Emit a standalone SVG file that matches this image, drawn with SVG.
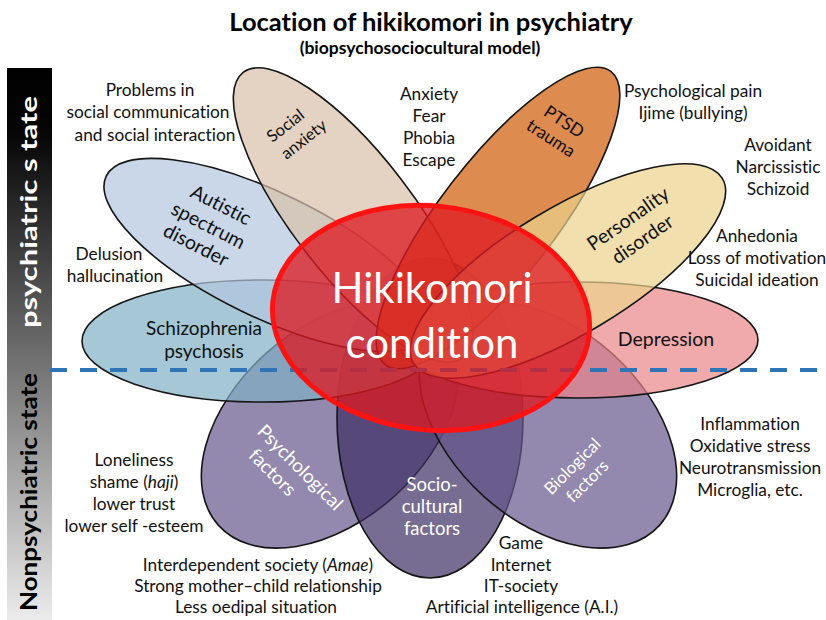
<svg xmlns="http://www.w3.org/2000/svg" width="826" height="620" viewBox="0 0 826 620">
  <defs>
    <linearGradient id="sideBar" x1="0" y1="0" x2="0" y2="1">
      <stop offset="0" stop-color="#000000"/>
      <stop offset="0.12" stop-color="#060606"/>
      <stop offset="1" stop-color="#ececec"/>
    </linearGradient>
    <style>
      text { font-family: Lato, "Open Sans", "Liberation Sans", sans-serif; font-variant-ligatures: none; text-anchor: middle; }
      .petal { stroke: #151515; stroke-width: 1.6; fill-opacity: 0.7; }
      .lbl { font-size: 17.3px; fill: #111; }
      .plbl { fill: #111; }
      .wlbl { fill: #ffffff; }
      .title { font-weight: bold; fill: #000; }
      .side { font-weight: bold; font-size: 22px; }
    </style>
  </defs>

  <rect width="826" height="620" fill="#ffffff"/>

  <!-- side bar: psychiatric / nonpsychiatric scale -->
  <g id="state-bar">
    <rect x="7" y="68" width="45" height="552" fill="url(#sideBar)"/>
    <text class="side" fill="#ffffff" transform="translate(37 212) rotate(-90)" textLength="232" lengthAdjust="spacingAndGlyphs">psychiatric s tate</text>
    <text class="side" fill="#000000" transform="translate(37 492) rotate(-90)" textLength="238" lengthAdjust="spacingAndGlyphs">Nonpsychiatric state</text>
  </g>

  <!-- title -->
  <g id="title">
    <text class="title" x="431" y="31" font-size="25.5">Location of hikikomori in psychiatry</text>
    <text class="title" x="420" y="54" font-size="17.5">(biopsychosociocultural model)</text>
  </g>

  <!-- petals -->
  <g id="psychological-factors">
    <ellipse class="petal" cx="330" cy="425" rx="150" ry="96" transform="rotate(-42 330 425)" fill="#65558c"/>
  </g>
  <g id="sociocultural-factors">
    <ellipse class="petal" cx="430" cy="418" rx="93" ry="160" fill="#3d2d64"/>
  </g>
  <g id="biological-factors">
    <ellipse class="petal" cx="548" cy="425" rx="150" ry="96" transform="rotate(42 548 425)" fill="#65558c"/>
  </g>
  <g id="schizophrenia">
    <ellipse class="petal" cx="262" cy="341" rx="180" ry="61" fill="#80b0c4"/>
  </g>
  <g id="depression">
    <ellipse class="petal" cx="578" cy="340" rx="180" ry="58" fill="#ea8689"/>
  </g>
  <g id="autistic-spectrum">
    <ellipse class="petal" cx="268" cy="255" rx="180" ry="62" transform="rotate(26 268 255)" fill="#b2c6de"/>
  </g>
  <g id="social-anxiety">
    <ellipse class="petal" cx="353" cy="215" rx="180" ry="60" transform="rotate(52.4 353 215)" fill="#d8c0a9"/>
  </g>
  <g id="ptsd">
    <ellipse class="petal" cx="498" cy="218" rx="185" ry="58" transform="rotate(-52.4 498 218)" fill="#d05a06" fill-opacity="0.82"/>
  </g>
  <g id="personality-disorder">
    <ellipse class="petal" cx="568" cy="271" rx="180" ry="63" transform="rotate(-31 568 271)" fill="#ebd38c"/>
  </g>

  <!-- boundary between psychiatric and nonpsychiatric states -->
  <g id="connectors">
    <line x1="50" y1="370" x2="826" y2="370" stroke="#2f74b5" stroke-width="4" stroke-dasharray="17 13"/>
  </g>

  <!-- central condition -->
  <g id="hikikomori-condition">
    <ellipse cx="431" cy="318" rx="159" ry="112" transform="rotate(6 431 318)" fill="#dc1a22" fill-opacity="0.77" stroke="#ff1212" stroke-width="5"/>
    <text class="wlbl" x="432" y="303" font-size="42">Hikikomori</text>
    <text class="wlbl" x="432" y="358" font-size="42">condition</text>
  </g>

  <!-- petal labels -->
  <g id="label-social-anxiety" transform="translate(295 133) rotate(-38)">
    <text class="plbl" font-size="16.5" x="-3" y="-6">Social</text>
    <text class="plbl" font-size="16.5" x="3" y="16">anxiety</text>
  </g>
  <g id="label-autistic" transform="translate(208 226) rotate(27)">
    <text class="plbl" font-size="19.5" x="2" y="-18">Autistic</text>
    <text class="plbl" font-size="19.5" x="0" y="6">spectrum</text>
    <text class="plbl" font-size="19.5" x="-2" y="29">disorder</text>
  </g>
  <g id="label-ptsd" transform="translate(557 129) rotate(33)">
    <text class="plbl" font-size="17.5" x="2" y="-4">PTSD</text>
    <text class="plbl" font-size="17.5" x="0" y="17">trauma</text>
  </g>
  <g id="label-personality" transform="translate(636 230) rotate(-35)">
    <text class="plbl" font-size="19.5" x="0" y="-7">Personality</text>
    <text class="plbl" font-size="19.5" x="0" y="18">disorder</text>
  </g>
  <g id="label-schizophrenia">
    <text class="plbl" font-size="19" x="204" y="335">Schizophrenia</text>
    <text class="plbl" font-size="19" x="204" y="358">psychosis</text>
  </g>
  <g id="label-depression">
    <text class="plbl" font-size="19.5" x="666" y="346">Depression</text>
  </g>
  <g id="label-psychological" transform="translate(287 472) rotate(45)">
    <text class="wlbl" font-size="19" x="6" y="-6">Psychological</text>
    <text class="wlbl" font-size="19" x="-10" y="17">factors</text>
  </g>
  <g id="label-sociocultural">
    <text class="wlbl" font-size="18.5" x="432" y="491">Socio-</text>
    <text class="wlbl" font-size="18.5" x="432" y="513">cultural</text>
    <text class="wlbl" font-size="18.5" x="432" y="535">factors</text>
  </g>
  <g id="label-biological" transform="translate(580 474) rotate(-45)">
    <text class="wlbl" font-size="17" x="0" y="-5">Biological</text>
    <text class="wlbl" font-size="17" x="0" y="16">factors</text>
  </g>

  <!-- annotations -->
  <g id="note-social-communication">
    <text class="lbl" x="150" y="96">Problems in</text>
    <text class="lbl" x="148" y="118">social communication</text>
    <text class="lbl" x="155" y="141">and social interaction</text>
  </g>
  <g id="note-anxiety">
    <text class="lbl" x="429" y="100">Anxiety</text>
    <text class="lbl" x="429" y="122">Fear</text>
    <text class="lbl" x="429" y="144">Phobia</text>
    <text class="lbl" x="429" y="166">Escape</text>
  </g>
  <g id="note-pain">
    <text class="lbl" x="693" y="97">Psychological pain</text>
    <text class="lbl" x="693" y="119">Ijime (bullying)</text>
  </g>
  <g id="note-personality">
    <text class="lbl" x="778" y="151">Avoidant</text>
    <text class="lbl" x="778" y="173">Narcissistic</text>
    <text class="lbl" x="778" y="195">Schizoid</text>
  </g>
  <g id="note-depression">
    <text class="lbl" x="757" y="242">Anhedonia</text>
    <text class="lbl" x="757" y="264">Loss of motivation</text>
    <text class="lbl" x="757" y="286">Suicidal ideation</text>
  </g>
  <g id="note-delusion">
    <text class="lbl" x="109" y="260">Delusion</text>
    <text class="lbl" x="115" y="282">hallucination</text>
  </g>
  <g id="note-biological">
    <text class="lbl" x="750" y="430">Inflammation</text>
    <text class="lbl" x="750" y="452">Oxidative stress</text>
    <text class="lbl" x="750" y="474">Neurotransmission</text>
    <text class="lbl" x="750" y="496">Microglia, etc.</text>
  </g>
  <g id="note-psychological">
    <text class="lbl" x="134" y="466">Loneliness</text>
    <text class="lbl" x="134" y="488">shame (<tspan font-style="italic">haji</tspan>)</text>
    <text class="lbl" x="134" y="510">lower trust</text>
    <text class="lbl" x="134" y="532">lower self -esteem</text>
  </g>
  <g id="note-sociocultural">
    <text class="lbl" x="258" y="571">Interdependent society  (<tspan font-style="italic">Amae</tspan>)</text>
    <text class="lbl" x="258" y="592">Strong mother–child relationship</text>
    <text class="lbl" x="256" y="613">Less oedipal situation</text>
  </g>
  <g id="note-it">
    <text class="lbl" x="521" y="549">Game</text>
    <text class="lbl" x="521" y="571">Internet</text>
    <text class="lbl" x="521" y="592">IT-society</text>
    <text class="lbl" x="522" y="613">Artificial intelligence (A.I.)</text>
  </g>
</svg>
